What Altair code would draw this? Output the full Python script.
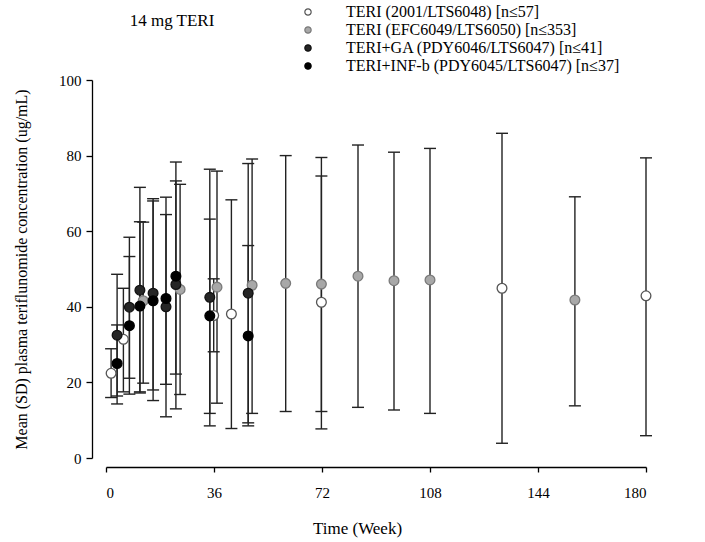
import altair as alt
import pandas as pd

# ---- data ----
series_names = [
    "TERI (2001/LTS6048) [n≤57]",
    "TERI (EFC6049/LTS6050) [n≤353]",
    "TERI+GA (PDY6046/LTS6047) [n≤41]",
    "TERI+INF-b (PDY6045/LTS6047) [n≤37]",
]

teri2001_week = [1.7, 5.8, 35.9, 41.8, 71.8, 132.0, 180.0]
teri2001_mean = [22.4, 31.4, 37.7, 38.1, 41.2, 44.9, 42.9]
teri2001_lo = [16.0, 17.5, 28.1, 7.8, 7.7, 3.9, 5.9]
teri2001_hi = [28.9, 44.9, 47.4, 68.3, 74.6, 85.9, 79.4]

efc_week = [12.4, 24.7, 37.0, 48.7, 59.9, 71.8, 84.0, 96.0, 108.0, 156.3]
efc_mean = [41.6, 44.6, 45.2, 45.7, 46.2, 46.0, 48.1, 46.9, 47.1, 41.8]
efc_lo = [19.8, 16.8, 14.5, 11.8, 12.3, 12.3, 13.4, 12.7, 11.8, 13.8]
efc_hi = [62.4, 72.4, 75.9, 79.1, 80.0, 79.5, 82.8, 80.9, 81.9, 69.1]

ga_week = [3.7, 7.8, 11.3, 15.7, 20.0, 23.3, 34.6, 47.4]
ga_mean = [32.5, 39.9, 44.4, 43.6, 40.0, 45.9, 42.5, 43.6]
ga_lo = [16.4, 21.1, 17.2, 18.0, 10.9, 13.0, 8.5, 9.3]
ga_hi = [48.6, 58.4, 71.6, 68.6, 69.0, 78.3, 76.4, 77.9]

inf_week = [3.7, 7.8, 11.3, 15.7, 20.0, 23.3, 34.6, 47.4]
inf_mean = [25.0, 35.0, 40.2, 41.6, 42.2, 48.1, 37.6, 32.3]
inf_lo = [14.3, 16.9, 17.5, 15.2, 19.5, 22.2, 11.8, 8.5]
inf_hi = [35.2, 53.3, 62.5, 68.0, 64.4, 73.3, 63.2, 56.2]

x_ticks = [0, 36, 72, 108, 144, 180]
y_ticks = [0, 20, 40, 60, 80, 100]
panel_title = ["14 mg TERI"]

fills = ["#ffffff", "#a8a8a8", "#262626", "#000000"]
strokes = ["#555555", "#7a7a7a", "#111111", "#000000"]

rows = []
for name, wk, m, lo, hi in [
    (series_names[0], teri2001_week, teri2001_mean, teri2001_lo, teri2001_hi),
    (series_names[1], efc_week, efc_mean, efc_lo, efc_hi),
    (series_names[2], ga_week, ga_mean, ga_lo, ga_hi),
    (series_names[3], inf_week, inf_mean, inf_lo, inf_hi),
]:
    for w, a, l, h in zip(wk, m, lo, hi):
        rows.append({"series": name, "week": w, "mean": a, "lo": l, "hi": h})
df = pd.DataFrame(rows)

FONT = "Liberation Serif"

x_enc = alt.X(
    "week:Q",
    scale=alt.Scale(domain=[0, 180], nice=False),
    axis=alt.Axis(
        values=x_ticks, offset=9, tickSize=5, labelPadding=13, title="Time (Week)",
        titlePadding=20, titleX=251, titleFontSize=17,
    ),
)
y_axis = alt.Axis(
    values=y_ticks, offset=14, tickSize=6, labelPadding=5,
    title="Mean (SD) plasma teriflunomide concentration (ug/mL)", titlePadding=29,
    titleFontSize=16,
)

base = alt.Chart(df)

bars = base.mark_rule(color="#222222", strokeWidth=1.4).encode(
    x=x_enc,
    y=alt.Y("lo:Q", scale=alt.Scale(domain=[0, 100], nice=False), axis=y_axis),
    y2="hi:Q",
)
cap_hi = base.mark_rule(color="#222222", strokeWidth=1.4, xOffset=-6, x2Offset=6).encode(
    x="week:Q", x2="week:Q", y="hi:Q"
)
cap_lo = base.mark_rule(color="#222222", strokeWidth=1.4, xOffset=-6, x2Offset=6).encode(
    x="week:Q", x2="week:Q", y="lo:Q"
)
points = base.mark_point(filled=True, size=95, shape="circle", strokeWidth=1.3, opacity=1).encode(
    x="week:Q",
    y="mean:Q",
    fill=alt.Fill(
        "series:N",
        scale=alt.Scale(domain=series_names, range=fills),
        legend=alt.Legend(
            title=None, orient="none", legendX=194, legendY=-76, symbolSize=40,
            symbolStrokeWidth=1.2, labelOffset=30, rowPadding=2, padding=0,
            labelFontSize=16, labelFont=FONT, labelLimit=400, labelColor="#000000",
        ),
        sort=series_names,
    ),
    stroke=alt.Stroke(
        "series:N", scale=alt.Scale(domain=series_names, range=strokes), legend=None
    ),
)

title_text = alt.Chart(pd.DataFrame({"t": panel_title})).mark_text(
    font=FONT, fontSize=17, color="#000000", align="center", baseline="middle"
).encode(text="t:N", x=alt.value(66), y=alt.value(-59))

chart = (
    alt.layer(bars, cap_hi, cap_lo, points, title_text)
    .properties(
        width=540,
        height=378,
        autosize=alt.AutoSizeParams(type="none"),
        padding={"left": 106, "top": 80, "right": 59, "bottom": 84},
    )
    .configure(background="#ffffff")
    .configure_view(stroke=None)
    .configure_axis(
        grid=False, domainColor="#000000", domainWidth=1.3, tickColor="#000000",
        tickWidth=1.3, labelFont=FONT, labelFontSize=15, labelColor="#000000",
        titleFont=FONT, titleFontSize=16, titleFontWeight="normal", titleColor="#000000",
    )
)

chart.save("out.html", embed_options={"renderer": "svg", "actions": False})
